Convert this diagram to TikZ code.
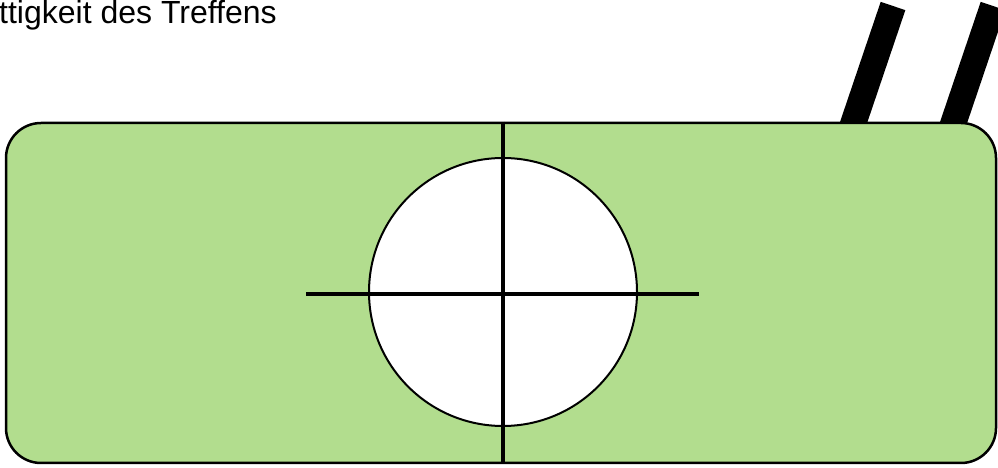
\documentclass[tikz,border=0pt]{standalone}
\usepackage{fontspec}
\setmainfont{Liberation Sans}
\usetikzlibrary{positioning,calc}
\definecolor{PanelGreen}{HTML}{B2DD8E}

\begin{document}
\begin{tikzpicture}[x=1pt,y=1pt]
  \useasboundingbox (0,0) rectangle (998,468);
  \clip (0,0) rectangle (998,468);
  % Titelzeile (links abgeschnitten)
  \node[anchor=base west,inner sep=0pt,font=\fontsize{32}{38}\selectfont] (title) at (-1,444) {ttigkeit des Treffens};
  % schraege Balken hinter der Platte
  \draw[line width=26pt] (850,335) -- (893,462);
  \draw[line width=26pt] (950,335) -- (993,462);
  % Platte
  \node[draw=black,line width=2.5pt,fill=PanelGreen,rounded corners=35pt,
        minimum width=990pt,minimum height=340pt,inner sep=0pt] (panel) at (501,175) {};
  % Kreis mit Fadenkreuz
  \node[circle,draw=black,line width=2pt,fill=white,minimum size=268pt,inner sep=0pt] (lens) at (503,176) {};
  \draw[line width=4.5pt] (panel.north -| lens.center) -- (panel.south -| lens.center);
  \draw[line width=4.5pt] ($(lens.west)+(-62,-2)$) -- ($(lens.east)+(61,-2)$);
\end{tikzpicture}
\end{document}
